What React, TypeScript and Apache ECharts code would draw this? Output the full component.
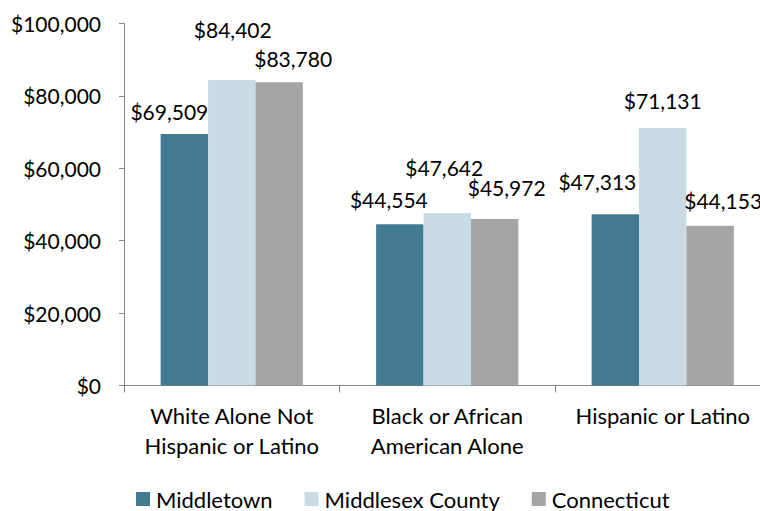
import React, { useEffect, useRef } from "react";
import * as echarts from "echarts";

const categories = ["White Alone Not\nHispanic or Latino", "Black or African\nAmerican Alone", "Hispanic or Latino"];
const seriesNames = ["Middletown", "Middlesex County", "Connecticut"];
const middletown = [69509, 44554, 47313];
const middlesex = [84402, 47642, 71131];
const connecticut = [83780, 45972, 44153];
const colors = ["#457A93", "#C8DBE5", "#A5A5A5"];

// label layout nudges (style, not data)
const labelOffsets = [
  [[-15, -12], [-11, -15], [-18, -23]],
  [[1, -40], [-3, -36], [0, -18]],
  [[14, -14], [12, -22], [13, -15]],
];

const FONT = "Lato";
const fmt = (v: number) => "$" + v.toLocaleString("en-US");

export default function App() {
  const ref = useRef<HTMLDivElement>(null);
  useEffect(() => {
    document.body.style.margin = "0";
    document.body.style.overflow = "hidden";
    document.documentElement.style.overflow = "hidden";
    if (!ref.current) return;
    const chart = echarts.init(ref.current, undefined, { renderer: "svg" });
    const all = [middletown, middlesex, connecticut];
    chart.setOption({
      animation: false,
      textStyle: { fontFamily: FONT },
      grid: { left: 124, top: 23.5, width: 646.5, height: 362, containLabel: false },
      legend: {
        data: seriesNames,
        left: 136,
        top: 488,
        padding: 0,
        itemWidth: 14,
        itemHeight: 14,
        itemGap: 32,
        icon: "rect",
        textStyle: { fontFamily: FONT, fontSize: 22, color: "#000", lineHeight: 20, padding: [0, 0, 0, 1] },
      },
      xAxis: {
        type: "category",
        data: categories,
        boundaryGap: true,
        axisLine: { lineStyle: { color: "#868686", width: 1 } },
        axisTick: { show: true, length: 7, alignWithLabel: false, lineStyle: { color: "#868686" } },
        axisLabel: { color: "#000", fontFamily: FONT, fontSize: 22, lineHeight: 30, margin: 15, interval: 0 },
      },
      yAxis: {
        type: "value",
        min: 0,
        max: 100000,
        interval: 20000,
        splitLine: { show: false },
        axisLine: { show: true, lineStyle: { color: "#868686", width: 1 } },
        axisTick: { show: true, length: 5, lineStyle: { color: "#868686" } },
        axisLabel: { color: "#000", fontFamily: FONT, fontSize: 21, margin: 23, formatter: (v: number) => fmt(v) },
      },
      series: seriesNames.map((name, si) => ({
        name,
        type: "bar",
        barGap: "0%",
        barCategoryGap: "34%",
        itemStyle: { color: colors[si] },
        data: all[si].map((v, ci) => ({
          value: v,
          label: {
            show: true,
            position: "top",
            distance: 0,
            offset: labelOffsets[si][ci],
            formatter: (p: any) => fmt(p.value),
            color: "#000",
            fontFamily: FONT,
            fontSize: 21,
            lineHeight: 20,
          },
        })),
      })),
    });
    return () => chart.dispose();
  }, []);
  return <div ref={ref} style={{ width: 780, height: 511 }} />;
}
